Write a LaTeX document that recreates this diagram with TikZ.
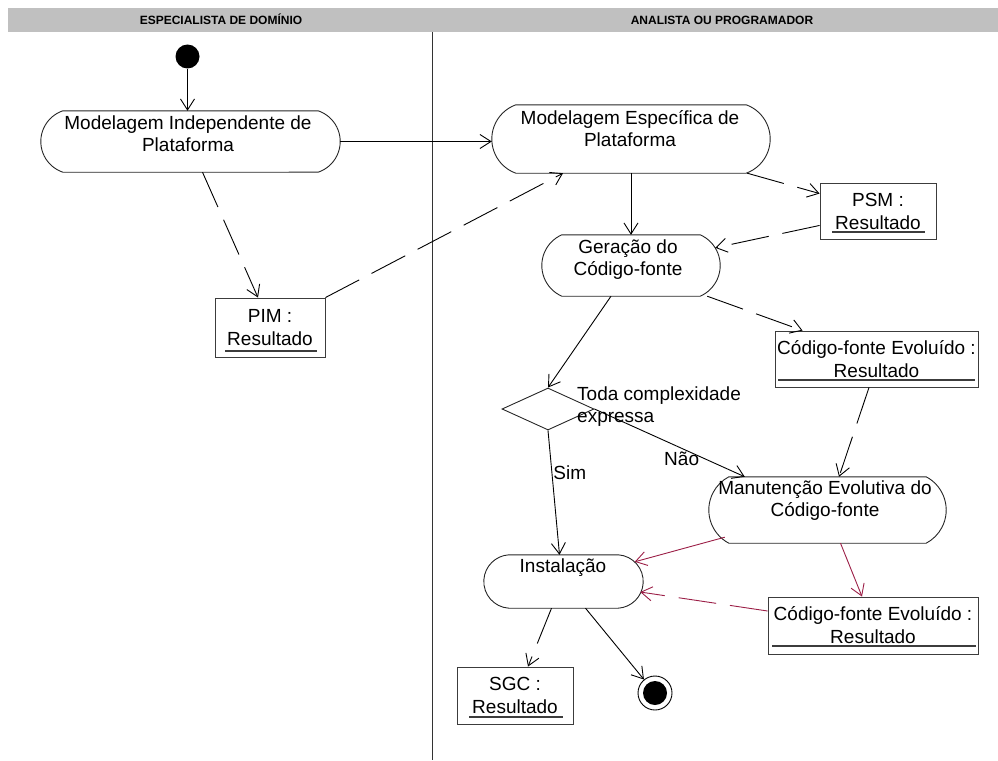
\documentclass[tikz,border=0pt]{standalone}
\usepackage{fontspec}
\setmainfont{Liberation Sans}
\usetikzlibrary{arrows.meta,calc,shapes.geometric}

\definecolor{lanegray}{RGB}{192,192,192}
\definecolor{wine}{RGB}{155,30,70}
\definecolor{edgegray}{RGB}{60,60,60}

% Activity outline: flat top and bottom, circular-arc ends
% #1 node name, #2 bulge of each end (in pt, no unit)
\newcommand\stadium[2]{%
  \draw[actline] let \p1=(#1.north west), \p2=(#1.south east),
      \n1={(\y1-\y2)/2}, \n2={(\n1*\n1+#2*#2)/(2*#2)}, \n3={asin(\n1/\n2)} in
    (\x1+#2pt,\y1) -- (\x2-#2pt,\y1)
    arc[start angle=\n3, end angle=-\n3, radius=\n2]
    -- (\x1+#2pt,\y2)
    arc[start angle=180+\n3, end angle=180-\n3, radius=\n2]
    -- cycle;}

\begin{document}
\begin{tikzpicture}[x=1pt,y=-1pt,
  txt/.style={font=\fontsize{19}{22}\selectfont, inner sep=0pt},
  lanehead/.style={font=\bfseries\fontsize{12}{13}\selectfont, inner sep=0pt, anchor=base},
  actarea/.style={rectangle, draw=none, inner sep=0pt},
  acttext/.style={txt, align=center, anchor=north},
  objbox/.style={rectangle, draw=edgegray, line width=0.9pt, inner sep=0pt,
    align=center, font=\fontsize{19}{23}\selectfont},
  actline/.style={draw=black!85, line width=0.9pt},
  uline/.style={draw=edgegray, line width=1.1pt},
  flow/.style={line width=0.9pt, -{Straight Barb[length=11pt,width=14pt]}},
  objflow/.style={flow, dash pattern=on 38pt off 14pt},
  redflow/.style={flow, draw=wine},
  redobj/.style={objflow, draw=wine},
]
\useasboundingbox (0,0) rectangle (998,760);

% swimlane headers and divider
\fill[lanegray] (8,8) rectangle (998,32);
\node[lanehead] (laneA) at (221,24.5) {ESPECIALISTA DE DOMÍNIO};
\node[lanehead] (laneB) at (722,24.5) {ANALISTA OU PROGRAMADOR};
\draw[line width=0.9pt, draw=black!80] (432,32) -- (432,760);

% initial state
\node[circle, fill=black, minimum size=24pt, inner sep=0pt] (start) at (187.5,56.5) {};

% activities
\node[actarea, minimum width=299pt, minimum height=61pt] (mip) at (190.5,141.5) {};
\stadium{mip}{22}
\node[acttext] (mipT) at (188,114) {\strut Modelagem Independente de\\Plataforma};

\node[actarea, minimum width=278pt, minimum height=68pt] (mep) at (631,139) {};
\stadium{mep}{24}
\node[acttext] (mepT) at (630,109) {\strut Modelagem Específica de\\Plataforma};

\node[actarea, minimum width=178pt, minimum height=61pt] (gen) at (631,265.5) {};
\stadium{gen}{20}
\node[acttext] (genT) at (628,238) {\strut Geração do\\Código-fonte};

\node[actarea, minimum width=237pt, minimum height=66pt] (man) at (827.5,510) {};
\stadium{man}{20}
\node[acttext] (manT) at (825,479) {\strut Manutenção Evolutiva do\\Código-fonte};

\node[actarea, minimum width=159pt, minimum height=53pt] (ins) at (563.5,581.5) {};
\stadium{ins}{25}
\node[acttext] (insT) at (563,557) {\strut Instalação};

% object nodes
\node[objbox, minimum width=110pt, minimum height=59pt] (pim) at (270,327.5) {PIM :\\Resultado};
\draw[uline] ($(pim.center)+(-45,23.5)$) -- ($(pim.center)+(47,23.5)$);

\node[objbox, minimum width=116pt, minimum height=56pt] (psm) at (878,211) {PSM :\\Resultado};
\draw[uline] ($(psm.center)+(-46,21)$) -- ($(psm.center)+(47,21)$);

\node[objbox, minimum width=203pt, minimum height=56pt] (cfe1) at (876.5,359) {Código-fonte Evoluído :\\Resultado};
\draw[uline] ($(cfe1.center)+(-98.5,21)$) -- ($(cfe1.center)+(98.5,21)$);

\node[objbox, minimum width=210pt, minimum height=57pt] (cfe2) at (873,625.5) {Código-fonte Evoluído :\\Resultado};
\draw[uline] ($(cfe2.center)+(-101,20.5)$) -- ($(cfe2.center)+(103,20.5)$);

\node[objbox, minimum width=116pt, minimum height=57pt] (sgc) at (515,695.5) {SGC :\\Resultado};
\draw[uline] ($(sgc.center)+(-46,21.5)$) -- ($(sgc.center)+(48,21.5)$);

% decision
\node[diamond, draw=black!85, line width=0.9pt, minimum width=92pt, minimum height=42pt, inner sep=0pt] (dec) at (548,409) {};
\node[txt, align=left, anchor=north west] (decT) at (577,385) {\strut Toda complexidade\\expressa};

% final state
\node[circle, draw=black, line width=0.9pt, fill=white, minimum size=34pt, inner sep=0pt] (endp) at (655,693) {};
\fill (endp.center) circle[radius=12pt];

% control and object flows
\draw[flow] (start) -- (start |- mip.north);
\draw[flow] (mip.east) -- (mip.east -| mep.west);
\draw[objflow] ($(mip.south)+(12,0)$) -- ($(pim.north)+(-12,0)$);
\draw[objflow] (pim.north east) -- ($(mep.south)+(-68,0)$);
\draw[flow] (mep.south) -- (gen.north);
\draw[objflow] ($(mep.south east)+(-23,0)$) -- ($(psm.north west)+(0,11)$);
\draw[objflow] ($(psm.south west)+(0,-14)$) -- ($(gen.north east)+(-5,13)$);
\draw[objflow] ($(gen.south east)+(-13,0)$) -- ($(cfe1.north west)+(28,0)$);
\draw[flow] ($(gen.south)+(-20,0)$) -- (dec.north);
\draw[flow] (dec.east) -- node[txt, pos=0.58, anchor=north, yshift=-3pt] (naoT) {Não} ($(man.north west)+(36,0)$);
\draw[flow] (dec.south) -- node[txt, pos=0.34, anchor=west, xshift=1pt] (simT) {Sim} ($(ins.north)+(-4,0)$);
\draw[objflow] ($(cfe1.south)+(-7.5,0)$) -- ($(man.north)+(11.5,0)$);
\draw[redflow] ($(man.south west)+(16,-6)$) -- ($(ins.north east)+(-8.5,7)$);
\draw[redflow] ($(man.south)+(13,0)$) -- ($(cfe2.north)+(-11,0)$);
\draw[redobj] ($(cfe2.west)+(0,-14.5)$) -- ($(ins.east)+(-3,10.5)$);
\draw[objflow] ($(ins.south)+(-12,0)$) -- ($(sgc.north)+(13,0)$);
\draw[flow] ($(ins.south)+(22,0)$) -- (endp);
\end{tikzpicture}
\end{document}
